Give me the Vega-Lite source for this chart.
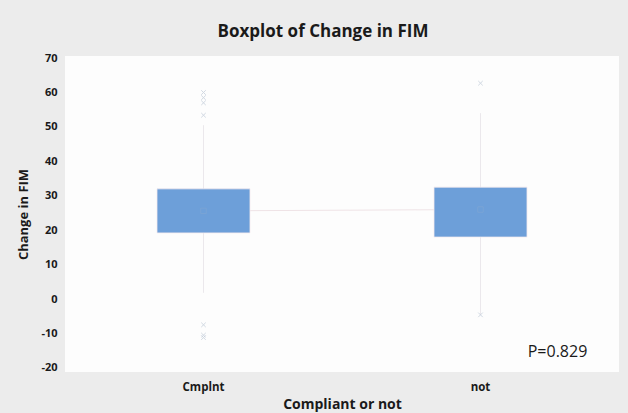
{
  "$schema": "https://vega.github.io/schema/vega-lite/v6.json",
  "autosize": {"type": "none"},
  "width": 554,
  "height": 316,
  "padding": {"left": 65, "top": 56, "right": 9, "bottom": 41},
  "background": "#ececec",
  "title": {"text": "Boxplot of Change in FIM", "fontSize": 17, "font": "Open Sans", "fontWeight": "bold", "color": "#1a1a1a", "offset": 11, "dx": -19},
  "config": {
    "view": {"fill": "#fdfdfd", "stroke": null},
    "axis": {"grid": false, "domain": false, "ticks": false, "labelFont": "Open Sans", "titleFont": "Open Sans", "labelFontWeight": "bold", "titleFontWeight": "bold", "labelColor": "#1a1a1a", "titleColor": "#1a1a1a"},
    "axisY": {"labelOverlap": false, "tickCount": 10, "labelFontSize": 11, "labelPadding": 8, "titleFontSize": 13, "titlePadding": 10}
  },
  "datasets": {
    "boxes": [
      {"group": "Cmplnt", "lower": 1.8, "q1": 19.2, "median": 25.6, "q3": 32, "upper": 50.5, "mean": 25.6},
      {"group": "not", "lower": -4.6, "q1": 18, "median": 26, "q3": 32.5, "upper": 54, "mean": 26}
    ],
    "outliers": [
      {"group": "Cmplnt", "value": 60},
      {"group": "Cmplnt", "value": 58.5},
      {"group": "Cmplnt", "value": 57},
      {"group": "Cmplnt", "value": 53.4},
      {"group": "Cmplnt", "value": -7.5},
      {"group": "Cmplnt", "value": -10.5},
      {"group": "Cmplnt", "value": -11.2},
      {"group": "not", "value": 62.7},
      {"group": "not", "value": -4.6}
    ],
    "note": [
      {"group": "not", "value": -15.4, "label": "P=0.829"}
    ]
  },
  "encoding": {
    "x": {"field": "group", "type": "nominal", "scale": {"domain": ["Cmplnt", "not"], "paddingInner": 0, "paddingOuter": 0}, "axis": {"title": "Compliant or not", "labelAngle": 0, "labelFontSize": 11.5, "labelPadding": 9, "titleFontSize": 14, "titlePadding": 5}}
  },
  "layer": [
    {
      "data": {"name": "boxes"},
      "mark": {"type": "rule", "color": "#ebe8ec", "strokeWidth": 1},
      "encoding": {
        "y": {"field": "lower", "type": "quantitative", "scale": {"domain": [-21.2, 70.6], "nice": false, "zero": false}, "axis": {"title": "Change in FIM", "values": [-20, -10, 0, 10, 20, 30, 40, 50, 60, 70], "labelOverlap": false, "labelExpr": "toString(datum.value)"}},
        "y2": {"field": "upper"}
      }
    },
    {
      "data": {"name": "boxes"},
      "mark": {"type": "line", "color": "#efe3e6", "strokeWidth": 1},
      "encoding": {
        "y": {"field": "mean", "type": "quantitative", "axis": {"title": "Change in FIM", "values": [-20, -10, 0, 10, 20, 30, 40, 50, 60, 70], "labelOverlap": false, "labelExpr": "toString(datum.value)"}}
      }
    },
    {
      "data": {"name": "boxes"},
      "mark": {"type": "bar", "size": 93, "color": "#6d9fd9", "stroke": "#f4eaee", "strokeWidth": 0.8},
      "encoding": {
        "y": {"field": "q1", "type": "quantitative", "axis": {"title": "Change in FIM", "values": [-20, -10, 0, 10, 20, 30, 40, 50, 60, 70], "labelOverlap": false, "labelExpr": "toString(datum.value)"}},
        "y2": {"field": "q3"}
      }
    },
    {
      "data": {"name": "boxes"},
      "mark": {"type": "point", "shape": "square", "size": 30, "color": "#7fa6d4", "strokeWidth": 1, "filled": false},
      "encoding": {
        "y": {"field": "mean", "type": "quantitative", "axis": {"title": "Change in FIM", "values": [-20, -10, 0, 10, 20, 30, 40, 50, 60, 70], "labelOverlap": false, "labelExpr": "toString(datum.value)"}}
      }
    },
    {
      "data": {"name": "outliers"},
      "mark": {"type": "point", "shape": "M-1,-1L1,1M-1,1L1,-1", "size": 20, "color": "#bfcad8", "filled": false, "strokeWidth": 1},
      "encoding": {
        "y": {"field": "value", "type": "quantitative", "axis": {"title": "Change in FIM", "values": [-20, -10, 0, 10, 20, 30, 40, 50, 60, 70], "labelOverlap": false, "labelExpr": "toString(datum.value)"}}
      }
    },
    {
      "data": {"name": "note"},
      "mark": {"type": "text", "font": "Open Sans", "fontSize": 16, "color": "#1a1a1a", "dx": 77},
      "encoding": {
        "y": {"field": "value", "type": "quantitative", "axis": {"title": "Change in FIM", "values": [-20, -10, 0, 10, 20, 30, 40, 50, 60, 70], "labelOverlap": false, "labelExpr": "toString(datum.value)"}},
        "text": {"field": "label"}
      }
    }
  ]
}
